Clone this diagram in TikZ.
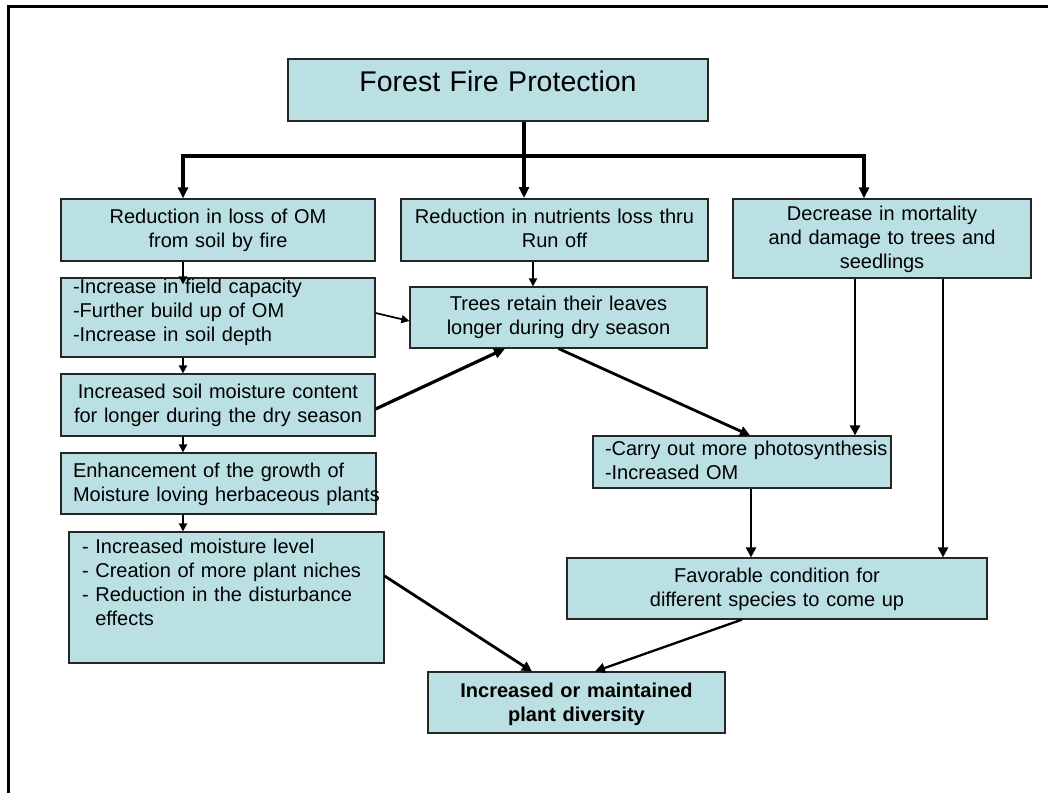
\documentclass[tikz,border=0pt]{standalone}
\usepackage{fontspec}
\setmainfont{Liberation Sans}
\usetikzlibrary{arrows.meta}
\definecolor{boxfill}{RGB}{187,224,227}
\tikzset{
  blk/.style={draw=black!85, line width=1.2pt, fill=boxfill, inner xsep=6pt, inner ysep=0pt,
    align=center, font=\fontsize{20}{24}\selectfont},
  lft/.style={align=left, inner xsep=12pt},
  link/.style={line width=2pt, -{Triangle[length=8pt,width=8pt]}},
  mid/.style={line width=2.8pt, -{Triangle[length=10pt,width=10pt]}},
  heavy/.style={line width=3.2pt, -{Triangle[length=11pt,width=10pt]}},
}
\begin{document}
\begin{tikzpicture}[x=1pt,y=-1pt]
	\useasboundingbox (0,0) rectangle (1048,792);
	\draw[line width=3pt] (8,800) -- (8,7) -- (1056,7);
	% boxes
	\node[blk, text width=408pt, text height=32pt, text depth=30pt, font=\fontsize{28.5}{34}\selectfont] (T) at (498,90) {Forest Fire Protection};
	\node[blk, text width=302pt, text height=24pt, text depth=38pt] (A) at (218,230) {Reduction in loss of OM\\from soil by fire};
	\node[blk, line width=2pt, text width=295pt, text height=24pt, text depth=38pt] (B) at (554.5,230) {Reduction in nutrients loss thru\\Run off};
	\node[blk, text width=286pt, text height=21pt, text depth=58pt] (C) at (882,238.5) {Decrease in mortality\\and damage to trees and\\seedlings};
	\node[blk, lft, text width=290pt, text height=15pt, text depth=64pt] (D) at (218,317.5) {-Increase in field capacity\\-Further build up of OM\\-Increase in soil depth};
	\node[blk, text width=285pt, text height=23pt, text depth=38pt] (E) at (558.5,317.5) {Trees retain their leaves\\longer during dry season};
	\node[blk, text width=302pt, text height=24pt, text depth=38pt] (F) at (218,405) {Increased soil moisture content\\\mbox{for longer during the dry season}};
	\node[blk, lft, text width=291pt, text height=24pt, text depth=37pt] (G) at (218.5,483.5) {Enhancement of the growth of\\\mbox{Moisture loving herbaceous plants}};
	\node[blk, lft, inner xsep=13pt, text width=289pt, text height=21pt, text depth=110pt] (H) at (226.5,597.5) {- Increased moisture level\\- Creation of more plant niches\\- Reduction in the disturbance\\\phantom{- }effects};
	\node[blk, lft, text width=274pt, text height=19pt, text depth=33pt] (I) at (742,462) {\mbox{-Carry out more photosynthesis}\\-Increased OM};
	\node[blk, text width=408pt, text height=24pt, text depth=37pt] (J) at (777,588.5) {Favorable condition for\\different species to come up};
	\node[blk, text width=285pt, text height=25pt, text depth=36pt, font=\fontsize{20}{24}\selectfont\bfseries] (K) at (576.5,702.5) {Increased or maintained\\plant diversity};
	% top branching
	\coordinate (busL) at (183,156);
	\coordinate (busR) at (864,156);
	\coordinate (Tfoot) at ([xshift=26pt]T.south);
	\draw[heavy] (Tfoot) -- (Tfoot |- B.north);
	\draw[heavy, {Triangle[length=11pt,width=10pt]}-{Triangle[length=11pt,width=10pt]}]
		(busL |- A.north) -- (busL) -- (busR) -- (busR |- C.north);
	% left column
	\draw[link] ([xshift=-35pt]A.south) -- ([xshift=-35pt,yshift=-7pt]D.north);
	\draw[link] ([xshift=-35pt]D.south) -- ([xshift=-35pt]F.north);
	\draw[link] ([xshift=-35pt]F.south) -- ([xshift=-35.5pt]G.north);
	\draw[link] ([xshift=-35.5pt]G.south) -- ([xshift=-43.5pt]H.north);
	% middle
	\draw[link] ([xshift=-21.5pt]B.south) -- ([xshift=-25.5pt]E.north);
	\draw[link, line width=1.7pt] ([yshift=4.5pt]D.east) -- ([yshift=-3.5pt]E.west);
	\draw[heavy] ([yshift=-4pt]F.east) -- ([xshift=-53.5pt]E.south);
	\draw[mid] (E.south) -- ([xshift=8pt]I.north);
	% right
	\draw[mid] ([xshift=-27pt]C.south) -- ([xshift=113pt]I.north);
	\draw[mid] ([xshift=61pt]C.south) -- ([xshift=166pt]J.north);
	\draw[mid] ([xshift=9pt]I.south) -- ([xshift=-26pt]J.north);
	% bottom
	\draw[mid] ([yshift=21.5pt]H.east) -- ([xshift=-44.5pt]K.north);
	\draw[mid, line width=2.3pt] ([xshift=-35pt]J.south) -- ([xshift=18.5pt]K.north);
\end{tikzpicture}
\end{document}
